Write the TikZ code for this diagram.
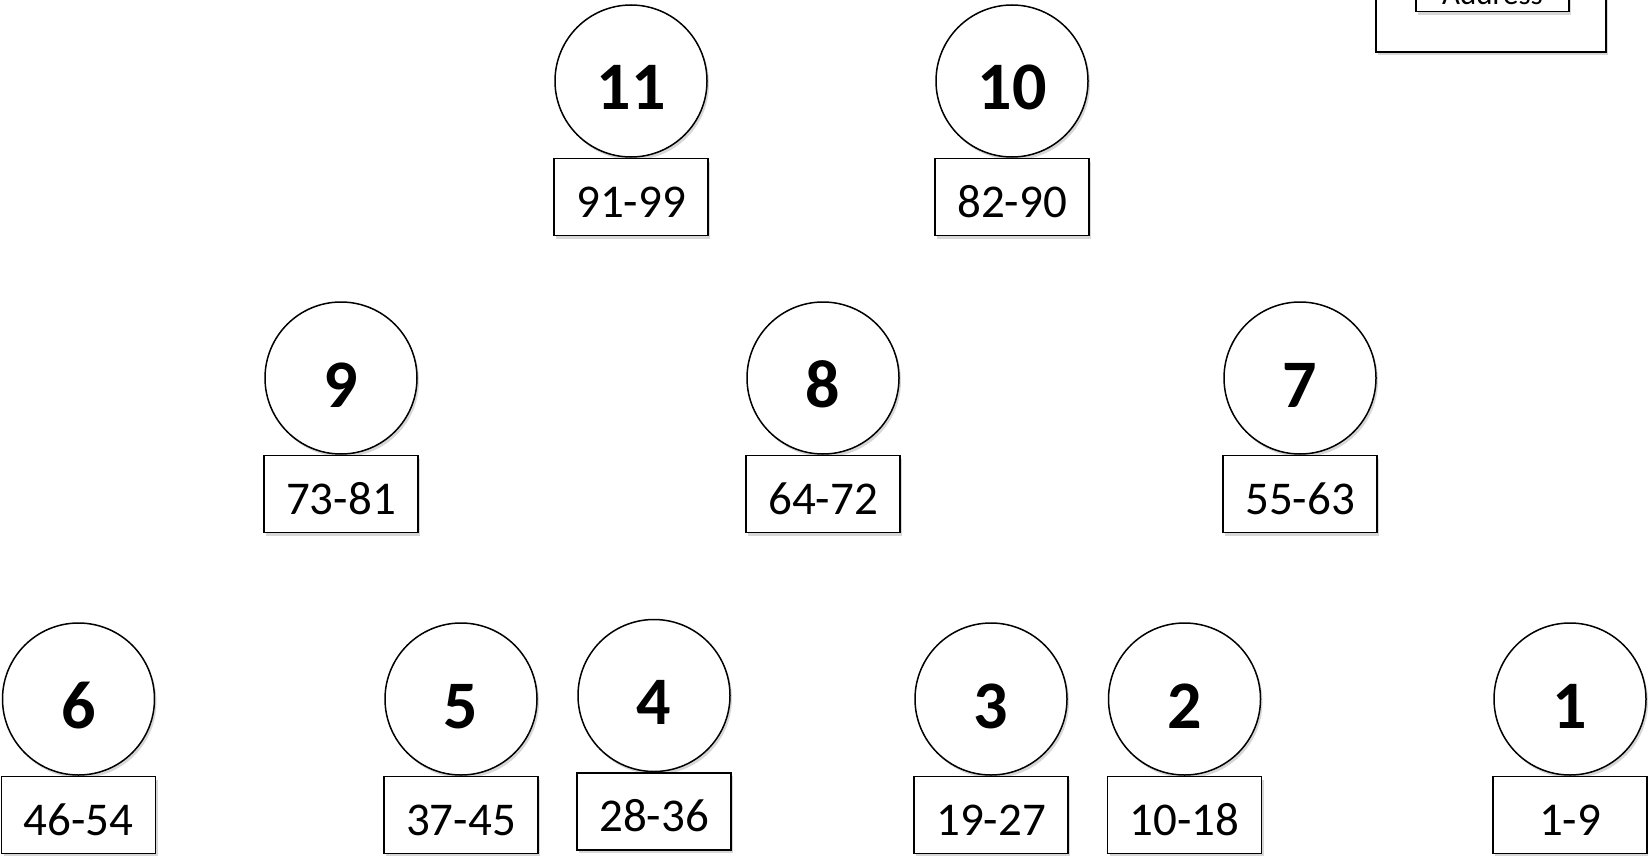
\documentclass[tikz,border=0pt]{standalone}
\usepackage{fontspec}
\setmainfont{Carlito}
\usetikzlibrary{positioning, shadows}

\begin{document}
\begin{tikzpicture}[
  x=0.5pt, y=-0.5pt,
  node distance=0pt,
  shade/.style={drop shadow={shadow xshift=1pt, shadow yshift=-1.5pt, opacity=0.35, fill=black!45}},
  peer/.style={draw, circle, fill=white, line width=0.75pt, minimum size=76pt, inner sep=0pt, shade,
    font=\fontsize{34}{40}\selectfont\bfseries, text height=29pt, text depth=0pt},
  addr/.style={draw, rectangle, fill=white, line width=0.75pt, minimum width=77pt, minimum height=38.5pt, inner sep=0pt, shade,
    font=\fontsize{23.5}{28}\selectfont, text height=20pt, text depth=0pt}
]
  \useasboundingbox (0,0) rectangle (1648,856);
  \clip (0,0) rectangle (1648,856);
  % top row
  \node[peer] (p11) at (631,81) {11};
  \node[addr, below=of p11] (a11) {91-99};
  \node[peer] (p10) at (1012,81) {10};
  \node[addr, below=of p10] (a10) {82-90};
  % middle row
  \node[peer] (p9) at (341,378) {9};
  \node[addr, below=of p9] (a9) {73-81};
  \node[peer] (p8) at (823,378) {8};
  \node[addr, below=of p8] (a8) {64-72};
  \node[peer] (p7) at (1300,378) {7};
  \node[addr, below=of p7] (a7) {55-63};
  % bottom row
  \node[peer] (p6) at (78.5,699) {6};
  \node[addr, below=of p6] (a6) {46-54};
  \node[peer] (p5) at (461,699) {5};
  \node[addr, below=of p5] (a5) {37-45};
  \node[peer] (p4) at (654,695.5) {4};
  \node[addr, below=of p4] (a4) {28-36};
  \node[peer] (p3) at (991,699) {3};
  \node[addr, below=of p3] (a3) {19-27};
  \node[peer] (p2) at (1184.5,699) {2};
  \node[addr, below=of p2] (a2) {10-18};
  \node[peer] (p1) at (1570,699) {1};
  \node[addr, below=of p1] (a1) {1-9};
  % legend
  \node[draw, fill=white, line width=0.75pt, minimum width=115pt, minimum height=60pt, anchor=south, shade] (legend) at (1491,52.7) {};
  \node[addr, anchor=south, minimum width=76.5pt, minimum height=18pt, text height=10.7pt,
    font=\fontsize{15.5}{18}\selectfont] (legendaddr) at (1492.5,12.3) {Address};
\end{tikzpicture}
\end{document}
